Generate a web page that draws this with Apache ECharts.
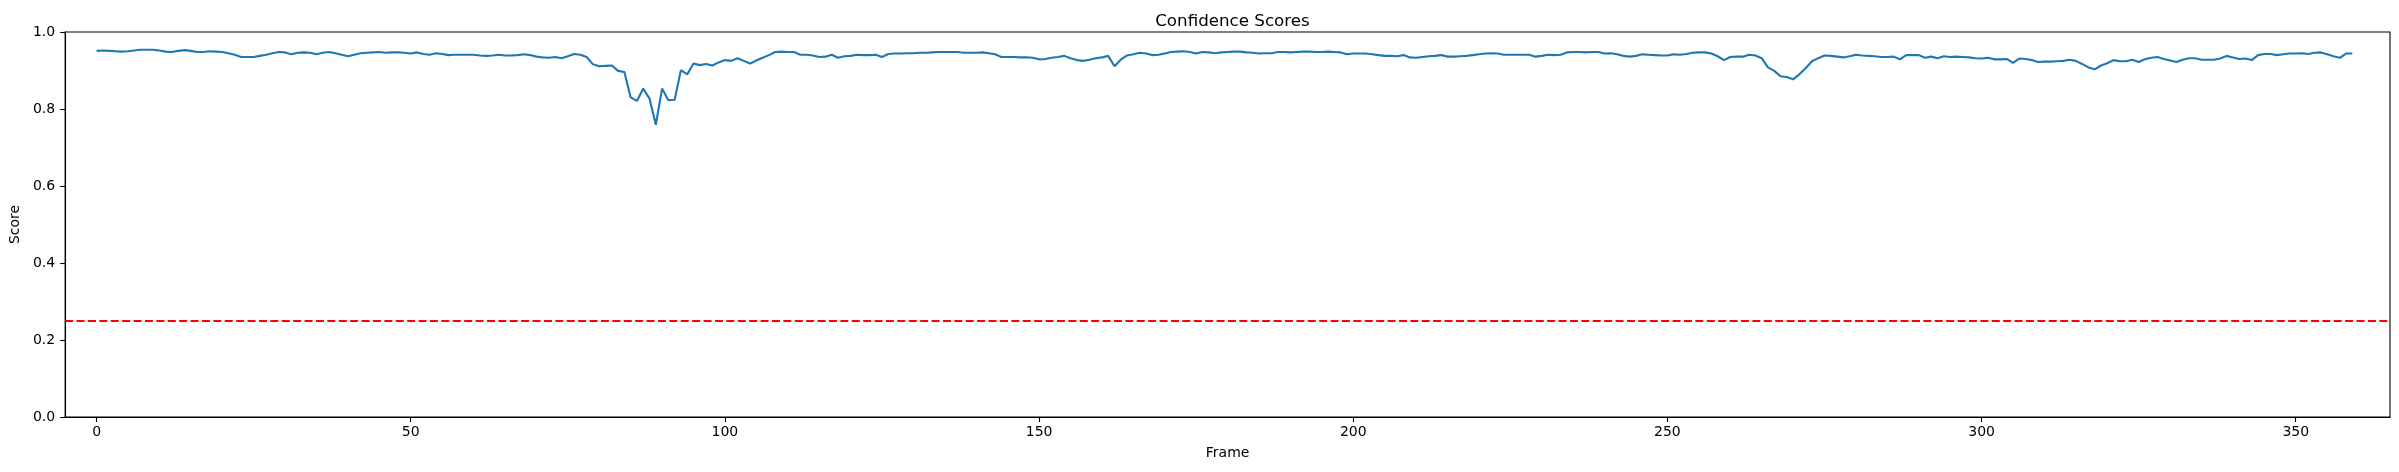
<!DOCTYPE html>
<html>
<head>
<meta charset="utf-8">
<script src="https://cdn.jsdelivr.net/npm/echarts@6/dist/echarts.min.js"></script>
<style>
html,body{margin:0;padding:0;background:#fff;}
#chart{width:2399px;height:472px;}
</style>
</head>
<body>
<div id="chart"></div>
<script>
// Confidence score per frame (frame index = position in the list, 0..359)
const scores = [
  .951,.952,.951,.950,.949,.950,.952,.954,.954,.954,.952,.949,.948,.951,.953,.951,.948,.948,.950,.949,.948,.945,.941,.935,.935,.935,.938,.941,.945,.948,.947,.942,.946,.947,.946,.942,
  .946,.948,.945,.941,.937,.941,.945,.946,.947,.948,.946,.947,.947,.946,.944,.947,.943,.941,.945,.943,.940,.941,.941,.941,.941,.939,.938,.939,.941,.939,.939,.940,.942,.940,.936,.934,.933,
  .935,.932,.937,.943,.941,.935,.916,.911,.912,.913,.899,.896,.830,.821,.853,.827,.759,.853,.823,.824,.901,.890,.918,.914,.917,.913,.921,.927,.925,.932,.925,.918,.926,.933,.940,.948,
  .949,.948,.948,.941,.941,.939,.935,.936,.941,.933,.937,.938,.941,.940,.940,.941,.935,.943,.944,.944,.945,.945,.946,.946,.947,.948,.948,.948,.948,.946,.946,.946,.947,.945,.942,.935,.935,
  .935,.934,.934,.933,.929,.930,.933,.935,.938,.932,.927,.925,.928,.932,.934,.938,.911,.928,.939,.942,.946,.944,.940,.941,.944,.948,.949,.950,.948,.944,.948,.947,.945,.947,.948,.949,.949,
  .947,.946,.944,.945,.945,.948,.948,.947,.948,.949,.949,.948,.948,.949,.948,.947,.942,.944,.944,.944,.942,.940,.938,.938,.937,.940,.934,.933,.935,.937,.938,.940,.936,.936,.937,.938,
  .940,.942,.944,.945,.944,.941,.941,.941,.941,.941,.936,.938,.941,.940,.941,.947,.948,.948,.947,.948,.948,.944,.945,.942,.938,.936,.938,.942,.941,.940,.939,.939,.942,.941,.943,.946,.947,
  .947,.944,.937,.927,.935,.936,.936,.941,.939,.932,.908,.899,.885,.883,.877,.890,.906,.924,.932,.939,.938,.936,.934,.937,.941,.939,.938,.937,.935,.935,.936,.929,.940,.940,.940,.933,
  .936,.932,.937,.935,.936,.935,.934,.932,.931,.933,.929,.929,.930,.920,.931,.930,.927,.922,.923,.923,.924,.925,.928,.925,.917,.908,.903,.913,.919,.927,.924,.924,.928,.922,.929,.933,.935,
  .930,.926,.922,.928,.932,.932,.928,.928,.928,.931,.938,.934,.930,.931,.927,.940,.943,.943,.940,.942,.944,.944,.945,.943,.946,.947,.942,.937,.933,.944,.944
];
const threshold = 0.25;
const xTicks = [0, 50, 100, 150, 200, 250, 300, 350];
const yTicks = [0.0, 0.2, 0.4, 0.6, 0.8, 1.0];
const xRange = [-5, 365];
const yRange = [0, 1];

const points = scores.map((v, i) => [i, v]);

const font = '"DejaVu Sans", sans-serif';
const chart = echarts.init(document.getElementById('chart'), null, {renderer: 'canvas'});
chart.setOption({
  animation: false,
  backgroundColor: '#ffffff',
  title: {
    text: 'Confidence Scores',
    left: 65 + 2325 / 2,
    textAlign: 'center',
    top: 8,
    textStyle: {fontFamily: font, fontSize: 16.7, fontWeight: 'normal', color: '#000'}
  },
  grid: {
    left: 65, top: 32, width: 2325, height: 385,
    show: true, borderColor: '#000', borderWidth: 1.1, backgroundColor: 'transparent'
  },
  xAxis: {
    type: 'value',
    min: xRange[0], max: xRange[1],
    name: 'Frame',
    nameLocation: 'middle',
    nameGap: 29,
    nameTextStyle: {fontFamily: font, fontSize: 14, color: '#000'},
    axisLine: {show: true, onZero: false, lineStyle: {color: '#000', width: 1.1}},
    axisTick: {show: true, customValues: xTicks, length: 5, lineStyle: {color: '#000', width: 1.1}},
    axisLabel: {show: true, customValues: xTicks, margin: 8, fontFamily: font, fontSize: 14, color: '#000'},
    splitLine: {show: false}
  },
  yAxis: {
    type: 'value',
    min: yRange[0], max: yRange[1],
    name: 'Score',
    nameLocation: 'middle',
    nameRotate: 90,
    nameGap: 42,
    nameTextStyle: {fontFamily: font, fontSize: 14, color: '#000'},
    axisLine: {show: true, onZero: false, lineStyle: {color: '#000', width: 1.1}},
    axisTick: {show: true, customValues: yTicks, length: 5, lineStyle: {color: '#000', width: 1.1}},
    axisLabel: {show: true, customValues: yTicks, margin: 10, fontFamily: font, fontSize: 14, color: '#000',
      formatter: v => v.toFixed(1)},
    splitLine: {show: false}
  },
  series: [{
    type: 'line',
    data: points,
    showSymbol: false,
    symbol: 'none',
    lineStyle: {color: '#1f77b4', width: 2.1},
    markLine: {
      silent: true,
      symbol: ['none', 'none'],
      label: {show: false},
      lineStyle: {color: '#ff0000', width: 2.1, type: [8, 3.4], opacity: 1},
      data: [{yAxis: threshold}]
    }
  }]
});
</script>
</body>
</html>
